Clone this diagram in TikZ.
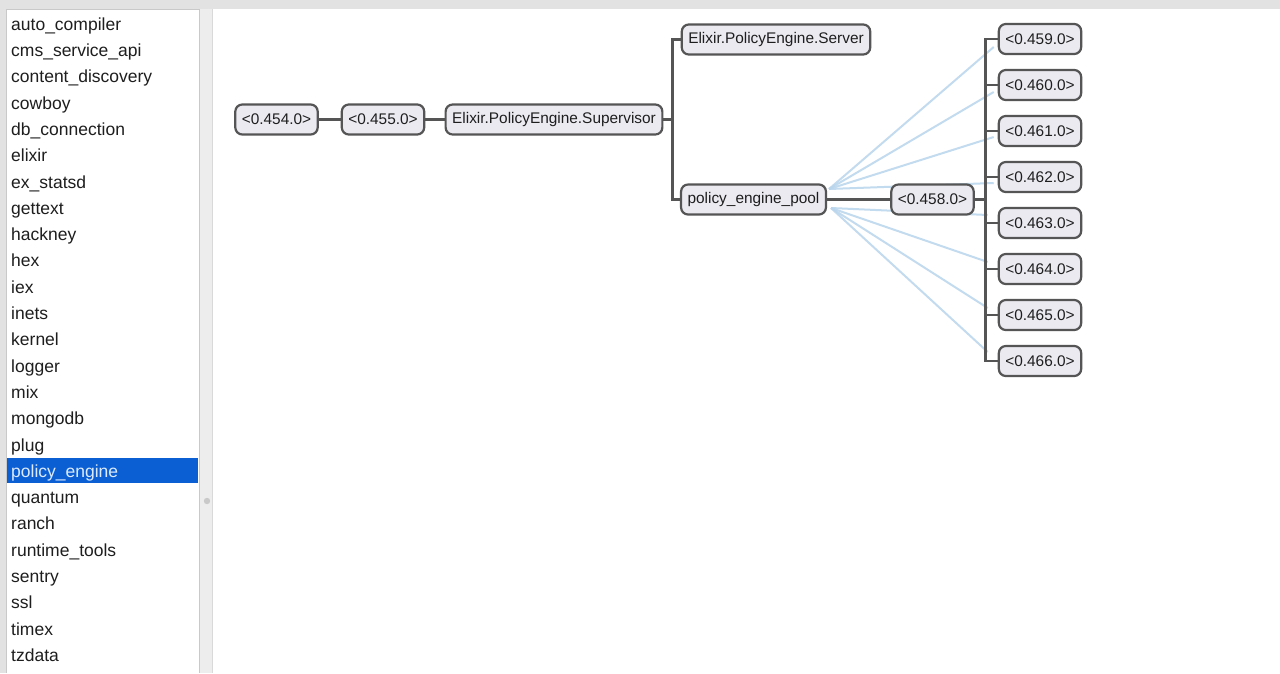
\documentclass[tikz,border=0pt]{standalone}
\usepackage{fontspec}
\setmainfont{Liberation Sans}
\definecolor{bargray}{HTML}{E2E2E2}
\definecolor{splitgray}{HTML}{EDEDED}
\definecolor{edgegray}{HTML}{C9C9C9}
\definecolor{listtext}{HTML}{1E1E1E}
\definecolor{selblue}{HTML}{0C5FD3}
\definecolor{seltext}{HTML}{DCEBFF}
\definecolor{boxfill}{HTML}{EBEAF1}
\definecolor{boxdraw}{HTML}{555555}
\definecolor{linkblue}{HTML}{B9D5EC}
\pgfdeclarelayer{chrome}
\pgfdeclarelayer{links}
\pgfsetlayers{chrome,links,main}
\tikzset{
  proc/.style={draw=boxdraw, fill=boxfill, line width=2.2pt, rounded corners=7pt,
    minimum height=30pt, inner xsep=6.5pt, inner ysep=0pt, text=listtext,
    font=\fontsize{15.4}{17}\selectfont},
  tree/.style={draw=boxdraw, line width=2.6pt},
  link/.style={draw=linkblue, line width=2pt, opacity=0.85},
  item/.style={anchor=base west, inner sep=0pt, text=listtext,
    font=\fontsize{17.5}{20}\selectfont},
}
\begin{document}
\begin{tikzpicture}[x=1pt, y=-1pt]
\useasboundingbox (0,0) rectangle (1280,673);
% window chrome
\begin{pgfonlayer}{chrome}
\fill[bargray] (0,0) rectangle (1280,9);
\fill[bargray] (0,9) rectangle (6,673);
\fill[white] (6,9) rectangle (200,673);
\draw[edgegray, line width=1pt] (6.5,673) -- (6.5,9.5) -- (199.5,9.5) -- (199.5,673);
\fill[splitgray] (200,9) rectangle (213,673);
\draw[edgegray!70, line width=0.8pt] (212.5,9) -- (212.5,673);
\fill[white] (213,9) rectangle (1280,673);
\fill[edgegray] (207,501) circle (3.2pt);
\fill[selblue] (7,458) rectangle (198,483);
\end{pgfonlayer}

% application list (baselines)
\foreach \name/\yy in {auto\_compiler/30, cms\_service\_api/56, content\_discovery/82,
    cowboy/109, db\_connection/135, elixir/161, ex\_statsd/188, gettext/214,
    hackney/240, hex/266, iex/293, inets/319, kernel/345, logger/372, mix/398,
    mongodb/424, plug/451, quantum/503, ranch/529, runtime\_tools/556,
    sentry/582, ssl/608, timex/635, tzdata/661}
  \node[item] at (11,\yy) {\name};
\node[item, text=seltext] (sel) at (11,477) {policy\_engine};

% process tree nodes
\node[proc] (p454) at (276.5,119.5) {<0.454.0>};
\node[proc] (p455) at (383,119.5) {<0.455.0>};
\node[proc] (sup) at (554,119.5) {Elixir.PolicyEngine.Supervisor};
\node[proc] (srv) at (776,39.5) {Elixir.PolicyEngine.Server};
\node[proc] (pool) at (753.5,199.5) {policy\_engine\_pool};
\node[proc] (p458) at (932.5,199.5) {<0.458.0>};
\foreach \n/\yy in {459/39, 460/85, 461/131, 462/177, 463/223, 464/269, 465/315, 466/361}
  \node[proc] (p\n) at (1040,\yy) {<0.\n.0>};

% links from the pool to its workers, behind the tree
\begin{pgfonlayer}{links}
\coordinate (hubU) at (829,189);
\coordinate (hubL) at (831,208);
\foreach \n/\dy in {459/-8, 460/-7, 461/-6, 462/-6}
  \draw[link] (hubU) -- ([shift={(-4pt,\dy pt)}]p\n.west);
\foreach \n/\dy in {463/8, 464/7, 465/7, 466/9}
  \draw[link] (hubL) -- ([shift={(-10pt,\dy pt)}]p\n.west);
\end{pgfonlayer}

% supervision tree
\draw[tree] (p454) -- (p455);
\draw[tree] (p455) -- (sup);
\draw[tree] (sup.east) -- ++(9,0) |- (srv.west);
\draw[tree] (sup.east) -- ++(9,0) |- (pool.west);
\draw[tree] (pool) -- (p458);
\foreach \n in {459,460,461,462,463,464,465,466}
  \draw[tree] (p458.east) -- ++(11,0) |- (p\n.west);
\end{tikzpicture}
\end{document}
